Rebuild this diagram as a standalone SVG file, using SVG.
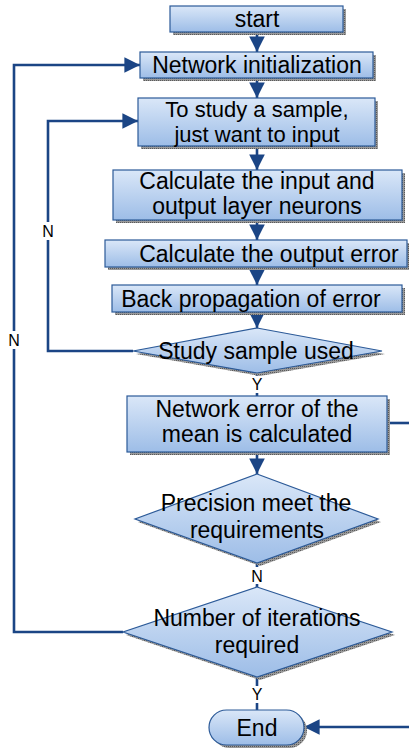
<svg xmlns="http://www.w3.org/2000/svg" width="409" height="751" viewBox="0 0 409 751">
<defs>
<linearGradient id="g" x1="0" y1="0" x2="0" y2="1">
<stop offset="0" stop-color="#dae7f8"/>
<stop offset="1" stop-color="#9dbde7"/>
</linearGradient>
<pattern id="sh" width="2" height="2" patternUnits="userSpaceOnUse">
<rect width="2" height="2" fill="#9a9a9a"/>
<rect width="1" height="1" fill="#5a5a5a"/>
</pattern>
<marker id="ah" viewBox="0 0 10 10" refX="10" refY="5" markerWidth="6" markerHeight="6" orient="auto" markerUnits="strokeWidth">
<path d="M0,0 L10,5 L0,10 z" fill="#1b4585"/>
</marker>
</defs>
<style>
.box{fill:url(#g);stroke:#2c5a98;stroke-width:1.2}
.shd{fill:url(#sh)}
.t{font-family:"Liberation Sans",Arial,sans-serif;font-size:23px;fill:#000;text-anchor:middle}
.t2{font-family:"Liberation Sans",Arial,sans-serif;font-size:22px;fill:#000;text-anchor:middle}
.lbl{font-family:"Liberation Sans",Arial,sans-serif;font-size:16px;fill:#000;text-anchor:middle}
.c{fill:none;stroke:#1b4585;stroke-width:2.6}
.ca{fill:none;stroke:#1b4585;stroke-width:2.6;marker-end:url(#ah)}
</style>
<g id="connectors">
<path class="ca" d="M257,32 V52"/>
<path class="ca" d="M257,78 V98"/>
<path class="ca" d="M257,146 V170"/>
<path class="ca" d="M257,220 V240"/>
<path class="ca" d="M257,267 V285"/>
<path class="ca" d="M257,312 V328"/>
<path class="c" d="M257,373 V396"/>
<path class="ca" d="M257,452 V474"/>
<path class="c" d="M257,563 V587"/>
<path class="c" d="M257,677 V710"/>
<path class="ca" d="M133,351 H48 V121 H138"/>
<path class="ca" d="M123,632 H14 V65 H140"/>
<path class="c" d="M387,423 H409"/>
<path class="ca" d="M409,727 H304"/>
</g>
<g id="labels">
<rect x="40" y="222" width="16" height="18" fill="#fff"/>
<text class="lbl" x="48" y="237">N</text>
<rect x="6" y="331" width="16" height="18" fill="#fff"/>
<text class="lbl" x="14" y="346">N</text>
<rect x="249" y="376" width="16" height="17" fill="#fff"/>
<text class="lbl" x="257" y="390">Y</text>
<rect x="249" y="567" width="16" height="17" fill="#fff"/>
<text class="lbl" x="257" y="582">N</text>
<rect x="249" y="686" width="16" height="17" fill="#fff"/>
<text class="lbl" x="257" y="700">Y</text>
</g>
<g id="start">
<rect class="shd" x="173" y="9" width="173" height="26"/>
<rect class="box" x="170" y="6" width="173" height="26"/>
<text class="t" x="257" y="27">start</text>
</g>
<g id="init">
<rect class="shd" x="143" y="55" width="233" height="26"/>
<rect class="box" x="140" y="52" width="233" height="26"/>
<text class="t" x="257" y="73">Network initialization</text>
</g>
<g id="study">
<rect class="shd" x="141" y="101" width="237" height="48"/>
<rect class="box" x="138" y="98" width="237" height="48"/>
<text class="t2" x="257" y="117">To study a sample,</text>
<text class="t2" x="257" y="142">just want to input</text>
</g>
<g id="calcio">
<rect class="shd" x="116" y="173" width="289" height="50"/>
<rect class="box" x="113" y="170" width="289" height="50"/>
<text class="t" x="257" y="189">Calculate the input and</text>
<text class="t" x="257" y="214">output layer neurons</text>
</g>
<g id="outerr">
<rect class="shd" x="108" y="243" width="302" height="27"/>
<rect class="box" x="105" y="240" width="302" height="27"/>
<text class="t" x="269" y="262">Calculate the output error</text>
</g>
<g id="backprop">
<rect class="shd" x="115" y="288" width="290" height="27"/>
<rect class="box" x="112" y="285" width="290" height="27"/>
<text class="t" x="251" y="307">Back propagation of error</text>
</g>
<g id="used">
<polygon class="shd" points="260,331 385,354 260,376 136,354"/>
<polygon class="box" points="257,328 382,351 257,373 133,351"/>
<text class="t" x="256" y="359">Study sample used</text>
</g>
<g id="meanerr">
<rect class="shd" x="130" y="399" width="260" height="56"/>
<rect class="box" x="127" y="396" width="260" height="56"/>
<text class="t" x="257" y="417">Network error of the</text>
<text class="t" x="257" y="442">mean is calculated</text>
</g>
<g id="precision">
<polygon class="shd" points="260,477 381,522 260,566 138,522"/>
<polygon class="box" points="257,474 378,519 257,563 135,519"/>
<text class="t" x="256" y="511">Precision meet the</text>
<text class="t" x="257" y="538">requirements</text>
</g>
<g id="iterations">
<polygon class="shd" points="260,590 395,635 260,680 126,635"/>
<polygon class="box" points="257,587 392,632 257,677 123,632"/>
<text class="t" x="257" y="626">Number of iterations</text>
<text class="t" x="257" y="653">required</text>
</g>
<g id="end">
<rect class="shd" x="212" y="713" width="95" height="35" rx="17.5"/>
<rect class="box" x="209" y="710" width="95" height="35" rx="17.5"/>
<text class="t" x="257" y="736">End</text>
</g>
</svg>
